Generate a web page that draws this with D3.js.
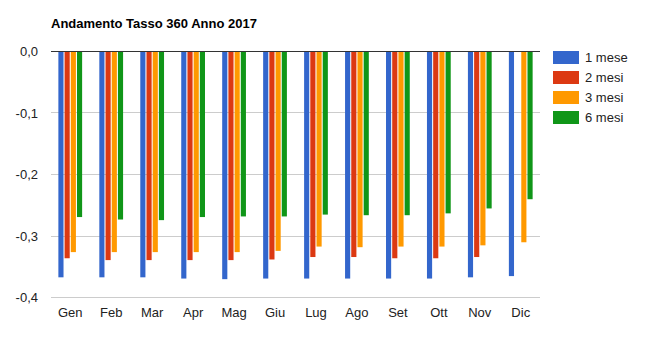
<!DOCTYPE html>
<html><head><meta charset="utf-8">
<script src="https://cdn.jsdelivr.net/npm/d3@7"></script>
<style>body{margin:0;background:#fff;} svg{display:block;font-family:Arial,"Liberation Sans",sans-serif;}</style>
</head><body>
<script>
const months = ["Gen","Feb","Mar","Apr","Mag","Giu","Lug","Ago","Set","Ott","Nov","Dic"];
const seriesNames = ["1 mese","2 mesi","3 mesi","6 mesi"];
const colors = ["#3366cc","#dc3912","#ff9900","#109618"];
const mese1 = [-0.368,-0.368,-0.368,-0.370,-0.371,-0.370,-0.370,-0.370,-0.370,-0.370,-0.368,-0.366];
const mesi2 = [-0.337,-0.340,-0.340,-0.340,-0.340,-0.339,-0.335,-0.335,-0.337,-0.337,-0.335,null];
const mesi3 = [-0.327,-0.327,-0.327,-0.327,-0.327,-0.325,-0.318,-0.319,-0.318,-0.318,-0.316,-0.311];
const mesi6 = [-0.270,-0.274,-0.275,-0.270,-0.269,-0.269,-0.266,-0.267,-0.267,-0.264,-0.256,-0.241];
const yTicks = [0,-0.1,-0.2,-0.3,-0.4];
const title = "Andamento Tasso 360 Anno 2017";

const series = [mese1, mesi2, mesi3, mesi6];
const W = 652, H = 355;
const svg = d3.select("body").append("svg").attr("width", W).attr("height", H);

const x0 = d3.scaleBand().domain(months).range([51, 540]).paddingInner(0.42).paddingOuter(0.18);
const x1 = d3.scaleBand().domain(d3.range(4)).range([0, x0.bandwidth()]).paddingInner(0.17);
const y = d3.scaleLinear().domain([-0.4, 0]).range([297, 51]);

svg.append("text").attr("x", 51).attr("y", 28).attr("font-size", 13).attr("font-weight", "bold")
  .attr("fill", "#000").text(title);

// gridlines
svg.append("g").selectAll("line").data(yTicks.filter(d => d !== 0)).join("line")
  .attr("x1", 51).attr("x2", 540).attr("y1", d => Math.round(y(d)) + 0.5).attr("y2", d => Math.round(y(d)) + 0.5)
  .attr("stroke", "#cccccc").attr("stroke-width", 1);

// y axis labels
const yAxis = d3.axisLeft(y).tickValues(yTicks).tickSize(0).tickPadding(0)
  .tickFormat(d => d3.format(".1f")(d).replace(".", ",").replace("−", "-"));
const gy = svg.append("g").attr("transform", "translate(38,0.5)").call(yAxis);
gy.select(".domain").remove();
gy.selectAll("text").attr("font-size", 13).attr("fill", "#222").attr("font-family", "Arial, 'Liberation Sans', sans-serif");

// bars
const g = svg.append("g");
months.forEach((m, i) => {
  series.forEach((s, k) => {
    const v = s[i];
    if (v === null) return;
    g.append("rect")
      .attr("x", x0(m) + x1(k))
      .attr("y", y(0))
      .attr("width", x1.bandwidth())
      .attr("height", y(v) - y(0))
      .attr("fill", colors[k]);
  });
});

// zero line
svg.append("line").attr("x1", 51).attr("x2", 540).attr("y1", Math.round(y(0)) + 0.5).attr("y2", Math.round(y(0)) + 0.5)
  .attr("stroke", "#333333").attr("stroke-width", 1);

// x axis labels
const xAxis = d3.axisBottom(x0).tickSize(0).tickPadding(0);
const gx = svg.append("g").attr("transform", "translate(0,308)").call(xAxis);
gx.select(".domain").remove();
gx.selectAll("text").attr("font-size", 13).attr("fill", "#222").attr("font-family", "Arial, 'Liberation Sans', sans-serif");

// legend
const lg = svg.append("g").selectAll("g").data(seriesNames).join("g")
  .attr("transform", (d, i) => `translate(553,${51 + i * 20})`);
lg.append("rect").attr("width", 26).attr("height", 13).attr("fill", (d, i) => colors[i]);
lg.append("text").attr("x", 32).attr("y", 11).attr("font-size", 13).attr("fill", "#222").text(d => d);
</script>
</body></html>
